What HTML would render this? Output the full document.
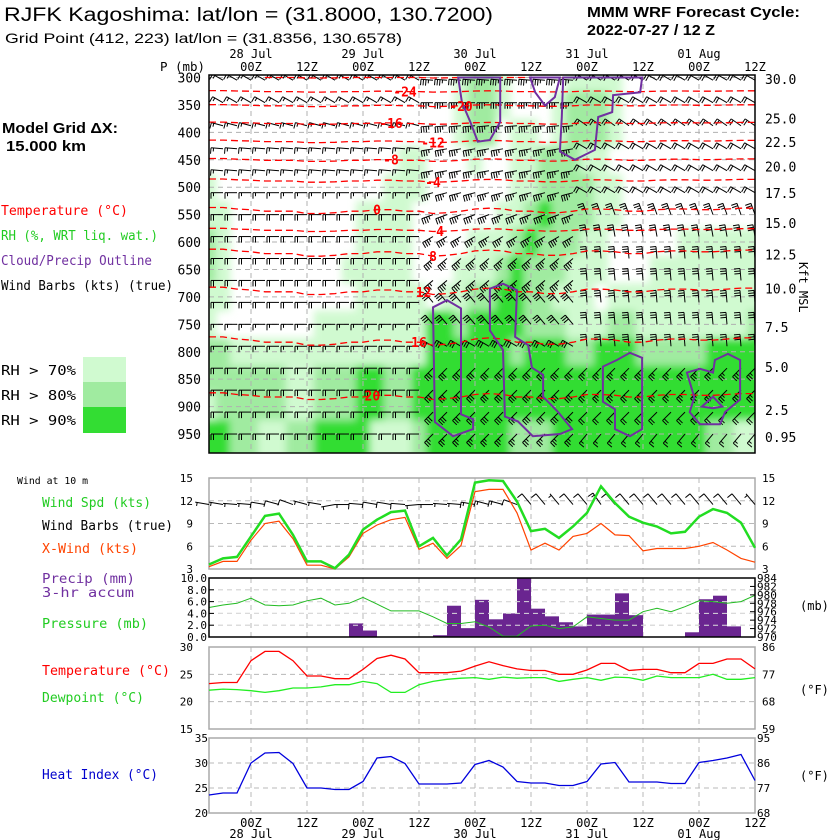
<!DOCTYPE html>
<html><head><meta charset="utf-8"><title>RJFK Kagoshima meteogram</title>
<style>
html,body{margin:0;padding:0;background:#fff;}
svg{display:block;}
text{font-family:"DejaVu Sans Mono","Liberation Mono",monospace;}
.sans{font-family:"Liberation Sans",sans-serif;}
</style></head>
<body>
<svg id="chart" xmlns="http://www.w3.org/2000/svg" width="840" height="840" viewBox="0 0 840 840">
<defs>
<clipPath id="topclip"><rect x="209" y="75" width="546" height="378"/></clipPath>
<filter id="soft" x="-5%" y="-5%" width="110%" height="110%"><feGaussianBlur stdDeviation="4"/></filter>
</defs>
<g>
<text class="sans" x="4" y="21" font-size="19" textLength="489" lengthAdjust="spacingAndGlyphs">RJFK Kagoshima:  lat/lon = (31.8000, 130.7200)</text>
<text class="sans" x="5" y="43" font-size="14" textLength="397" lengthAdjust="spacingAndGlyphs">Grid Point (412, 223) lat/lon = (31.8356, 130.6578)</text>
<text class="sans" x="587" y="17" font-size="15" font-weight="bold" textLength="213" lengthAdjust="spacingAndGlyphs">MMM WRF Forecast Cycle:</text>
<text class="sans" x="587" y="35" font-size="15" font-weight="bold" textLength="128" lengthAdjust="spacingAndGlyphs">2022-07-27 / 12  Z</text>
<text class="sans" x="2" y="133" font-size="15" font-weight="bold" textLength="116" lengthAdjust="spacingAndGlyphs">Model Grid ΔX:</text>
<text class="sans" x="6" y="151" font-size="15" font-weight="bold" textLength="80" lengthAdjust="spacingAndGlyphs">15.000 km</text>
</g>
<g>
<text x="1" y="215" font-size="13" fill="#ff0000" textLength="127" lengthAdjust="spacingAndGlyphs">Temperature (°C)</text>
<text x="1" y="240" font-size="13" fill="#22cc22" textLength="157" lengthAdjust="spacingAndGlyphs">RH (%, WRT liq. wat.)</text>
<text x="1" y="265" font-size="13" fill="#7030a0" textLength="151" lengthAdjust="spacingAndGlyphs">Cloud/Precip Outline</text>
<text x="1" y="290" font-size="13" fill="#000" textLength="172" lengthAdjust="spacingAndGlyphs">Wind Barbs (kts) (true)</text>
<rect x="83" y="357" width="43" height="25" fill="#d0fad0"/>
<rect x="83" y="382" width="43" height="25" fill="#a0eba0"/>
<rect x="83" y="407" width="43" height="26" fill="#33dd33"/>
<text x="1" y="375" font-size="13" textLength="75" lengthAdjust="spacingAndGlyphs">RH &gt; 70%</text>
<text x="1" y="400" font-size="13" textLength="75" lengthAdjust="spacingAndGlyphs">RH &gt; 80%</text>
<text x="1" y="425" font-size="13" textLength="75" lengthAdjust="spacingAndGlyphs">RH &gt; 90%</text>
</g>
<g>
<text x="17" y="484" font-size="10" textLength="71" lengthAdjust="spacingAndGlyphs">Wind at 10 m</text>
<text x="42" y="507" font-size="13" fill="#22cc22" textLength="109" lengthAdjust="spacingAndGlyphs">Wind Spd (kts)</text>
<text x="42" y="530" font-size="13" fill="#000" textLength="131" lengthAdjust="spacingAndGlyphs">Wind Barbs (true)</text>
<text x="42" y="553" font-size="13" fill="#ff4400" textLength="96" lengthAdjust="spacingAndGlyphs">X-Wind (kts)</text>
<text x="42" y="583" font-size="13" fill="#7030a0" textLength="93" lengthAdjust="spacingAndGlyphs">Precip (mm)</text>
<text x="42" y="597" font-size="13" fill="#7030a0" textLength="92" lengthAdjust="spacingAndGlyphs">3-hr accum</text>
<text x="42" y="628" font-size="13" fill="#22cc22" textLength="106" lengthAdjust="spacingAndGlyphs">Pressure (mb)</text>
<text x="42" y="675" font-size="13" fill="#ff0000" textLength="128" lengthAdjust="spacingAndGlyphs">Temperature (°C)</text>
<text x="42" y="702" font-size="13" fill="#22cc22" textLength="102" lengthAdjust="spacingAndGlyphs">Dewpoint (°C)</text>
<text x="42" y="779" font-size="13" fill="#0000cc" textLength="116" lengthAdjust="spacingAndGlyphs">Heat Index (°C)</text>
<text x="800" y="610" font-size="12">(mb)</text>
<text x="800" y="694" font-size="12">(°F)</text>
<text x="800" y="780" font-size="12">(°F)</text>
<text x="0" y="0" font-size="12" transform="translate(799,262) rotate(90)">Kft MSL</text>
<text x="160" y="71" font-size="12" textLength="45" lengthAdjust="spacingAndGlyphs">P (mb)</text>
</g>
<g id="layer"></g>
</svg>
<script>
// ---------- data ----------
const times = [-9,-6,-3,0,3,6,9,12,15,18,21,24,27,30,33,36,39,42,45,48,51,54,57,60,63,66,69,72,75,78,81,84,87,90,93,96,99,102,105,108];
const dayLabels = ["28 Jul","29 Jul","30 Jul","31 Jul","01 Aug"];
const hourLabels = ["00Z","12Z"];
const levels = [300,350,400,450,500,550,600,650,700,750,800,850,900,950];
const rhRows = [
"0000000000000000001221000011110000000000",
"0000000000000000001221000122210000000000",
"0000000000000000001220110122210000000000",
"0000000000000011000100112221100000000000",
"1000000000000111000000112222110000000000",
"1100000000011110000001123222110000000000",
"2100000000011110000111232221100000111111",
"2100000000111110001112322211100011111111",
"1100000000011111011223322111011111111111",
"1000000011111111332333322211122111111112",
"2211111111111111333333233322333222223333",
"2222221122233223333333333333333333333333",
"1222221122233223333333333333333333333333",
"3322112233331112333333222333333333332211"];
const tempProfile = [-28,-20.2,-14,-8.1,-2.8,0.4,6.7,9.8,12.5,14.7,16.7,18.7,20.7,23];
const tempOffset = [0.5,0.5,0.3,0.2,0,0,0,-0.3,-0.3,-0.2,0,0,0.2,0.2,0,0,-0.3,-0.2,0,0.3,0.4,0.3,0,0,-0.2,-0.2,0,0.3,0.3,0.2,0,0,0.2,0.3,0.3,0.2,0.2,0.3,0.4,0.4];
const contourLevels = [-28,-24,-20,-16,-12,-8,-4,0,4,8,12,16,20,24];
const contourLabelTimes = [null,33,45,30,39,30,39,27,40.5,39,37,36,26,null];
const barbLevels = [305,346,388,430,470,510,550,590,630,670,710,750,790,830,870,910,950];
const upperSpeedA = [15,15,15,15,15,20,20,20,20,15,15,20,20,20];
const upperSpeedB = [35,35,35,35,35,35,35,35,30,30,30,30,30,25];
const upperSpeedC = [20,20,20,20,20,25,30,30,30,30,30,25,20,15];
const upperDirA = [300,300,285,275,270,270,270,270,270,270,270,270,270,270];
const upperDirB = [275,270,265,260,255,250,240,230,320,320,300,225,225,225];
const upperDirC = [300,300,305,300,300,340,350,355,355,355,355,225,225,220];
const cloudPolys = [
 [[44.4,300],[45.2,345],[47,381],[48.6,417],[51.2,414],[53.4,381],[53.4,300]],
 [[59.8,300],[60.9,327],[63,351],[65.1,336],[66.2,300]],
 [[66.9,300],[66.6,372],[66.2,435],[69.4,450],[73.7,432],[74.4,372],[77.4,363],[77.6,332],[83.4,327],[83.8,300]],
 [[39,719],[42,706],[45,721],[45,914],[47.6,923],[47.6,941],[43.3,954],[39.4,928]],
 [[51.2,685],[54,676],[57,688],[56.6,773],[59.4,788],[60.2,829],[62.6,842],[62.6,882],[65.8,910],[68.8,941],[66.2,950],[60.4,954],[57.2,927],[54.4,918],[54,797],[51.2,761]],
 [[75.4,827],[78.4,815],[81.2,802],[83.8,811],[83.8,941],[81.2,954],[78,941],[78,905],[75.4,891]],
 [[93.4,838],[96.2,831],[99,838],[99.4,815],[102.2,804],[104.8,815],[104.8,887],[101.6,910],[100.5,932],[96.2,932],[94,910],[95,883]],
 [[96.6,900],[99,882],[101,900],[99,903]]];
const kftTicks = ["30.0","25.0","22.5","20.0","17.5","15.0","12.5","10.0","7.5","5.0","2.5","0.95"];
const kftPressures = [303,375,418,462,511,565,623,685,755,828,906,955];

const windSpd = [3.6,4.4,4.6,7.3,10.0,10.3,7.5,4.0,4.0,3.1,4.9,8.2,9.5,10.5,10.7,6.0,7.1,4.8,6.9,14.4,14.7,14.6,11.9,8.0,8.3,7.1,8.6,10.4,13.9,11.7,9.9,9.1,8.6,7.7,7.9,9.9,10.9,10.4,9.1,5.8];
const xWind = [3.3,4.0,4.0,6.8,9.0,9.3,7.0,3.5,3.5,3.0,4.6,7.7,8.8,9.5,9.8,5.6,6.4,4.4,6.1,13.2,13.5,13.5,10.4,5.5,6.4,5.5,7.3,7.7,9.0,7.5,7.4,5.4,5.7,5.7,5.7,6.0,6.5,5.5,4.4,3.9];
const windDir10 = [280,280,275,275,280,285,290,285,280,260,270,275,280,280,275,265,270,275,275,280,285,285,290,320,320,320,320,320,325,320,320,320,320,320,320,320,320,320,320,320];
const windTicks = [3,6,9,12,15];
const precip = [0,0,0,0,0,0,0,0,0,0,0,2.3,1.1,0,0,0,0,0.3,5.3,1.5,6.3,3.0,4.0,10,4.8,3.5,2.5,1.8,3.8,3.8,7.4,3.7,0,0,0,0.8,6.4,7.0,1.8,0];
const precipTicks = ["0.0","2.0","4.0","6.0","8.0","10.0"];
const pressure = [977.0,977.6,978.0,979.2,977.6,977.4,977.6,978.6,979.2,977.6,978.0,979.4,977.8,976.2,976.2,976.2,974.8,973.2,973.2,973.6,972.4,970.2,970.2,972.6,972.8,972.0,972.4,974.8,974.4,974.0,974.0,976.0,976.8,976.0,977.2,978.6,978.4,978.0,978.4,979.9];
const pressTicks = [970,972,974,976,978,980,982,984];
const tempC = [23.3,23.5,23.5,27.5,29.2,29.2,27.5,24.7,24.7,24.2,24.2,25.9,27.9,28.5,27.8,25.3,25.3,25.3,25.6,26.5,27.3,26.6,26.0,25.7,25.7,25.0,25.0,25.8,27.0,27.0,25.7,25.9,25.9,25.3,25.3,27.0,27.0,27.8,27.8,26.0];
const dewC = [22.1,22.3,22.2,22.0,21.7,22.0,22.5,22.5,22.7,23.1,23.1,23.7,23.3,21.7,21.7,23.1,23.7,24.1,24.3,24.4,24.1,24.5,24.3,24.4,24.4,23.7,24.1,24.4,23.9,24.5,24.4,23.9,24.7,24.4,24.4,24.4,25.0,24.1,24.1,24.4];
const tempTicks = [15,20,25,30];
const tempFTicks = ["59","68","77","86"];
const heatIdx = [23.6,24,24,30,32,32.1,29.9,25,25,24.7,24.7,26.3,31,31.3,29.9,25.8,25.8,25.8,26,29.7,30.5,29.2,26.3,26,26,25.5,25.5,26.3,29.8,30.1,26.2,26.2,26.2,25.9,25.9,30.1,30.5,31,31.7,26.5];
const heatTicks = [20,25,30,35];
const heatFTicks = ["68","77","86","95"];

// ---------- scales ----------
const X0=209, X1=755;
function x(t){return 251 + t*4.6667;}
function yP(p){return 77.5 + (p-300)*0.5485;}
function yW(v){return 478 + (15-v)*(91/12);}
function yPr(v){return 637 - v*5.9;}
function yMb(m){return 637 - (m-970)*(59/14);}
function yT(c){return 647 + (30-c)*(82/15);}
function yH(c){return 738 + (35-c)*5;}

const NS="http://www.w3.org/2000/svg";
const layer=document.getElementById('layer');
function el(tag, attrs, parent){
  const e=document.createElementNS(NS,tag);
  for(const k in attrs) e.setAttribute(k, attrs[k]);
  (parent||layer).appendChild(e);
  return e;
}
function txt(s, attrs, parent){const e=el('text',attrs,parent); e.textContent=s; return e;}

// ---------- upper panel ----------
const upper = el('g',{});


const rhG = el('g',{'clip-path':'url(#topclip)'},upper);


const rhInner = el('g',{filter:'url(#soft)'},rhG);
const rhColors=[null,'#d0fad0','#a0eba0','#33dd33'];
levels.forEach((p,li)=>{
  const top = li===0?70:yP(p-25);
  const bot = li===levels.length-1?460:yP(p+25);
  for(let i=0;i<times.length;i++){
    const c = +rhRows[li][i];
    if(!c) continue;
    const r = el('rect',{x:x(times[i])-7.2,y:top,width:14.6,height:bot-top+0.5,fill:rhColors[c]},rhInner);
    
    
  }
});
const grid = el('g',{stroke:'#b0b0b0','stroke-width':1,'stroke-dasharray':'5,4'},upper);


levels.forEach(p=>{ el('line',{x1:X0,x2:X1,y1:yP(p),y2:yP(p)},grid); });
for(let t=0;t<=108;t+=12){ el('line',{x1:x(t),x2:x(t),y1:75,y2:453},grid); }

function tempAt(p, i){
  let li = (p-300)/50; const a=Math.floor(li), b=Math.min(a+1,levels.length-1);
  const f=li-a;
  return (tempProfile[a]*(1-f)+tempProfile[b]*f) + tempOffset[i]*(1-Math.abs(p-625)/650);
}
function pressFor(T,i){
  for(let p=300;p<980;p+=1){ if(tempAt(p,i)<=T && tempAt(p+1,i)>T) return p+ (T-tempAt(p,i))/(tempAt(p+1,i)-tempAt(p,i)); }
  return null;
}

function barb(cx,cy,dir,spd,L,parent){
  const g = el('g',{stroke:'#000','stroke-width':1,fill:'#000'},parent);
  const rad=dir*Math.PI/180;
  const vx=Math.sin(rad), vy=-Math.cos(rad);
  const px=vy, py=-vx;
  const ex=cx+vx*L, ey=cy+vy*L;
  el('line',{x1:cx,y1:cy,x2:ex,y2:ey},g);
  let s=Math.round(spd/5)*5, pos=0;
  while(s>=50){
    const bx=ex-vx*pos, by=ey-vy*pos;
    el('polygon',{points:`${bx},${by} ${bx+px*6},${by+py*6} ${bx-vx*3},${by-vy*3}`},g);
    pos+=4; s-=50;
  }
  while(s>=10){
    const bx=ex-vx*pos, by=ey-vy*pos;
    el('line',{x1:bx,y1:by,x2:bx+px*6,y2:by+py*6},g);
    pos+=2.5; s-=10;
  }
  if(s>=5){
    if(pos===0) pos=2;
    const bx=ex-vx*pos, by=ey-vy*pos;
    el('line',{x1:bx,y1:by,x2:bx+px*3.5,y2:by+py*3.5},g);
  }
  return g;
}
const barbsG = el('g',{'clip-path':'url(#topclip)'},upper);


barbLevels.forEach(p=>{
  const li=Math.min(Math.round((p-300)/50),levels.length-1);
  times.forEach((t,i)=>{
    const d = i<16?upperDirA[li]:(i<27?upperDirB[li]:upperDirC[li]);
    const s = i<16?upperSpeedA[li]:(i<27?upperSpeedB[li]:upperSpeedC[li]);
    const b = barb(x(t),yP(p),d,s,12,barbsG);
    
    
  });
});
const tc = el('g',{'clip-path':'url(#topclip)'},upper);


contourLevels.forEach((T,ci)=>{
  let pts=[];
  times.forEach((t,i)=>{ const p=pressFor(T,i); if(p!==null) pts.push(x(t).toFixed(1)+','+yP(p).toFixed(1)); });
  if(pts.length<2) return;
  const pl = el('polyline',{points:pts.join(' '),fill:'none',stroke:'#ff0000','stroke-width':1.3,'stroke-dasharray':'7,4'},tc);
  
  
});
const cg = el('g',{'clip-path':'url(#topclip)'},upper);


cloudPolys.forEach(poly=>{
  const pg = el('polygon',{points:poly.map(q=>x(q[0]).toFixed(1)+','+yP(q[1]).toFixed(1)).join(' '),fill:'none',stroke:'#7030a0','stroke-width':2},cg);
  
  
});
contourLevels.forEach((T,ci)=>{
  const lt = contourLabelTimes[ci];
  if(lt===null) return;
  const i = Math.round((lt+9)/3);
  const p = pressFor(T,i);
  if(p===null) return;
  const lb = txt(String(T),{x:x(lt),y:yP(p)+5,'font-size':13,'font-weight':'bold',fill:'#ff0000','text-anchor':'middle'},upper);
  
  
});
const ub = el('rect',{x:X0,y:75,width:X1-X0,height:378,fill:'none',stroke:'#000','stroke-width':1.5},upper);


levels.forEach(p=>{
  const l = txt(String(p),{x:201,y:yP(p)+5,'font-size':13,'text-anchor':'end'},upper);
  
  
});
kftTicks.forEach((k,i)=>{
  const l = txt(k,{x:765,y:yP(kftPressures[i])+5,'font-size':13},upper);
  
  
});
for(let d=0;d<5;d++){
  const dl = txt(dayLabels[d],{x:x(d*24),y:58,'font-size':12,'text-anchor':'middle'});
  
  
}
for(let t=0;t<=108;t+=12){
  const hl = txt(hourLabels[(t/12)%2],{x:x(t),y:71,'font-size':12,'text-anchor':'middle'});
  
  
}

// ---------- lower panels ----------
function panelFrame(name,y0,y1){
  const g=el('g',{});
  
  
  const gd=el('g',{stroke:'#b8b8b8','stroke-dasharray':'5,4','stroke-width':1},g);
  for(let t=0;t<=96;t+=12) el('line',{x1:x(t),x2:x(t),y1:y0,y2:y1},gd);
  return {g,gd};
}
function border(g,y0,y1,stroke){
  const b=el('rect',{x:X0,y:y0,width:X1-X0,height:y1-y0,fill:'none',stroke:stroke,'stroke-width':1.5},g);
  
  
}
function line(g,arr,yf,color,w,name){
  const pl=el('polyline',{points:arr.map((v,i)=>x(times[i]).toFixed(1)+','+yf(v).toFixed(1)).join(' '),fill:'none',stroke:color,'stroke-width':w},g);
  
  
}
const wp=panelFrame('wind-panel',478,569);
windTicks.forEach(v=>{
  if(v!==3&&v!==15) el('line',{x1:X0,x2:X1,y1:yW(v),y2:yW(v)},wp.gd);
  const a=txt(String(v),{x:193,y:yW(v)+4,'font-size':11,'text-anchor':'end'},wp.g);
  
  
  const b=txt(String(v),{x:762,y:yW(v)+4,'font-size':11},wp.g);
  
  
});
border(wp.g,478,569,'#aaaaaa');
const b10=el('g',{},wp.g);


times.forEach((t,i)=>{
  const b=barb(x(t),yW(11.5),windDir10[i],windSpd[i],14,b10);
  
  
});
line(wp.g,xWind,yW,'#ff4400',1.2,'xwind-line');
line(wp.g,windSpd,yW,'#22dd22',2.5,'wind-speed-line');
const pp=panelFrame('precip-pressure-panel',578,637);
[2,4,6,8].forEach(v=>el('line',{x1:X0,x2:X1,y1:yPr(v),y2:yPr(v)},pp.gd));
const bars=el('g',{fill:'#6a2590'},pp.g);


precip.forEach((v,i)=>{
  if(!v) return;
  const r=el('rect',{x:x(times[i]-3),y:yPr(v),width:x(times[i])-x(times[i]-3),height:637-yPr(v)},bars);
  
  
});
const gd2=el('g',{stroke:'#dddddd','stroke-dasharray':'5,4'},pp.g);
[2,4,6,8].forEach(v=>el('line',{x1:X0,x2:X1,y1:yPr(v),y2:yPr(v)},gd2));
line(pp.g,pressure,yMb,'#22bb22',1,'pressure-line');
border(pp.g,578,637,'#000');
precipTicks.forEach(s=>{
  const a=txt(s,{x:207,y:yPr(+s)+4,'font-size':11,'text-anchor':'end'},pp.g);
  
  
  el('line',{x1:X0,x2:X0+5,y1:yPr(+s),y2:yPr(+s),stroke:'#000'},pp.g);
});
pressTicks.forEach(v=>{
  const a=txt(String(v),{x:757,y:yMb(v)+4,'font-size':11},pp.g);
  
  
  el('line',{x1:X1-5,x2:X1,y1:yMb(v),y2:yMb(v),stroke:'#000'},pp.g);
});
const tp=panelFrame('temperature-panel',647,729);
[20,25].forEach(v=>el('line',{x1:X0,x2:X1,y1:yT(v),y2:yT(v)},tp.gd));
tempTicks.forEach((v,i)=>{
  const a=txt(String(v),{x:193,y:yT(v)+4,'font-size':11,'text-anchor':'end'},tp.g);
  
  
  const b=txt(tempFTicks[i],{x:762,y:yT(v)+4,'font-size':11},tp.g);
  
  
});
border(tp.g,647,729,'#aaaaaa');
line(tp.g,dewC,yT,'#22ee22',1.3,'dewpoint-line');
line(tp.g,tempC,yT,'#ff0000',1.3,'temperature-line');
const hp=panelFrame('heat-index-panel',738,813);
[25,30].forEach(v=>el('line',{x1:X0,x2:X1,y1:yH(v),y2:yH(v)},hp.gd));
heatTicks.forEach((v,i)=>{
  const a=txt(String(v),{x:208,y:yH(v)+4,'font-size':11,'text-anchor':'end'},hp.g);
  
  
  const b=txt(heatFTicks[i],{x:757,y:yH(v)+4,'font-size':11},hp.g);
  
  
});
border(hp.g,738,813,'#aaaaaa');
line(hp.g,heatIdx,yH,'#0000dd',1.3,'heat-index-line');
for(let t=0;t<=108;t+=12){
  const hl=txt(hourLabels[(t/12)%2],{x:x(t),y:827,'font-size':12,'text-anchor':'middle'});
  
  
}
for(let d=0;d<5;d++){
  const dl=txt(dayLabels[d],{x:x(d*24),y:838,'font-size':12,'text-anchor':'middle'});
  
  
}
</script>
</body></html>
